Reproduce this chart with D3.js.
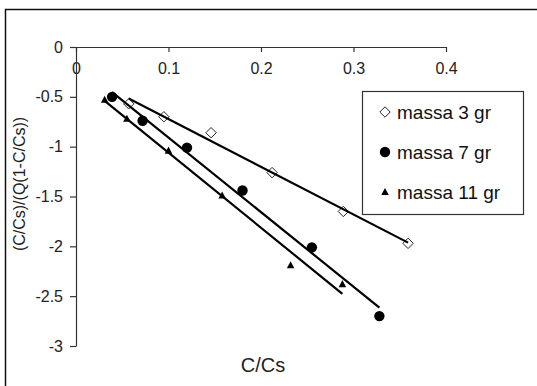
<!DOCTYPE html>
<html>
<head>
<meta charset="utf-8">
<script src="https://cdn.jsdelivr.net/npm/d3@7/dist/d3.min.js"></script>
<style>
  html, body { margin: 0; padding: 0; background: #fff; }
  svg { display: block; font-family: "Liberation Sans", Arial, sans-serif; }
</style>
</head>
<body>
<svg id="chart" width="537" height="386"></svg>
<script>
// ---- data ----
const seriesNames = ["massa 3 gr", "massa 7 gr", "massa 11 gr"];
const x3  = [0.057, 0.095, 0.146, 0.212, 0.289, 0.359];
const y3  = [-0.57, -0.70, -0.86, -1.26, -1.65, -1.97];
const x7  = [0.039, 0.072, 0.120, 0.180, 0.255, 0.328];
const y7  = [-0.50, -0.74, -1.01, -1.44, -2.01, -2.70];
const x11 = [0.031, 0.055, 0.100, 0.158, 0.232, 0.288];
const y11 = [-0.53, -0.72, -1.04, -1.49, -2.19, -2.38];
const xTicks = [0, 0.1, 0.2, 0.3, 0.4];
const yTicks = [0, -0.5, -1, -1.5, -2, -2.5, -3];
const xTitle = "C/Cs";
const yTitle = "(C/Cs)/(Q(1-C/Cs))";

const series = [
  { name: seriesNames[0], xs: x3,  ys: y3,  marker: "diamond" },
  { name: seriesNames[1], xs: x7,  ys: y7,  marker: "circle" },
  { name: seriesNames[2], xs: x11, ys: y11, marker: "triangle" }
];

const svg = d3.select("#chart");

// outer frame (cropped on right/bottom)
svg.append("rect")
  .attr("x", 5.5).attr("y", 9.5)
  .attr("width", 560).attr("height", 400)
  .attr("fill", "#fff").attr("stroke", "#111").attr("stroke-width", 1.5);

const x = d3.scaleLinear().domain([0, 0.4]).range([76, 446]);
const y = d3.scaleLinear().domain([-3, 0]).range([346, 47]);

const fmt = d => String(d);

// x axis (at y=0, ticks pointing down)
const gx = svg.append("g")
  .attr("transform", `translate(0,${y(0)})`)
  .call(d3.axisBottom(x).tickValues(xTicks).tickFormat(fmt)
        .tickSize(5).tickSizeOuter(0).tickPadding(10.5));
// y axis
const gy = svg.append("g")
  .attr("transform", `translate(${x(0)},0)`)
  .call(d3.axisLeft(y).tickValues(yTicks).tickFormat(fmt)
        .tickSize(6).tickSizeOuter(0).tickPadding(7));

[gx, gy].forEach(g => {
  g.selectAll("path, line").attr("stroke", "#333").attr("stroke-width", 1.2);
  g.selectAll("text").attr("fill", "#222").attr("font-size", 16)
    .attr("font-family", '"Liberation Sans", Arial, sans-serif');
});

// axis titles
svg.append("text")
  .attr("x", 263).attr("y", 372)
  .attr("text-anchor", "middle")
  .attr("font-size", 20).attr("fill", "#222")
  .text(xTitle);
svg.append("text")
  .attr("transform", "translate(25,184) rotate(-90)")
  .attr("text-anchor", "middle")
  .attr("font-size", 16).attr("fill", "#222")
  .text(yTitle);

// markers
const diamondPath = (cx, cy, r) =>
  `M${cx},${cy - r}L${cx + r},${cy}L${cx},${cy + r}L${cx - r},${cy}Z`;
const trianglePath = (cx, cy, w) =>
  `M${cx},${cy - w * 0.55}L${cx + w / 2},${cy + w * 0.4}L${cx - w / 2},${cy + w * 0.4}Z`;

function drawMarker(g, type, cx, cy) {
  if (type === "diamond") {
    g.append("path").attr("d", diamondPath(cx, cy, 5.2))
      .attr("fill", "#fff").attr("stroke", "#222").attr("stroke-width", 1);
  } else if (type === "circle") {
    g.append("circle").attr("cx", cx).attr("cy", cy).attr("r", 5.2)
      .attr("fill", "#000");
  } else {
    g.append("path").attr("d", trianglePath(cx, cy, 7.5))
      .attr("fill", "#000");
  }
}

const gm = svg.append("g");
series.forEach(s => {
  s.xs.forEach((xv, i) => drawMarker(gm, s.marker, x(xv), y(s.ys[i])));
});

// linear trendlines (least squares) over each series' x range
const gl = svg.append("g");
series.forEach(s => {
  const n = s.xs.length;
  const mx = d3.mean(s.xs), my = d3.mean(s.ys);
  let sxy = 0, sxx = 0;
  for (let i = 0; i < n; i++) {
    sxy += (s.xs[i] - mx) * (s.ys[i] - my);
    sxx += (s.xs[i] - mx) ** 2;
  }
  const b = sxy / sxx, a = my - b * mx;
  const [x0, x1] = d3.extent(s.xs);
  gl.append("line")
    .attr("x1", x(x0)).attr("y1", y(a + b * x0))
    .attr("x2", x(x1)).attr("y2", y(a + b * x1))
    .attr("stroke", "#000").attr("stroke-width", 2.2);
});

// legend
const lg = svg.append("g");
lg.append("rect").attr("x", 362.5).attr("y", 91.5)
  .attr("width", 161).attr("height", 123)
  .attr("fill", "#fff").attr("stroke", "#333").attr("stroke-width", 1.2);
series.forEach((s, i) => {
  const cy = 112 + i * 40;
  drawMarker(lg, s.marker, 385, cy);
  lg.append("text").attr("x", 397).attr("y", cy + 7)
    .attr("font-size", 19).attr("fill", "#111")
    .text(s.name);
});
</script>
</body>
</html>
